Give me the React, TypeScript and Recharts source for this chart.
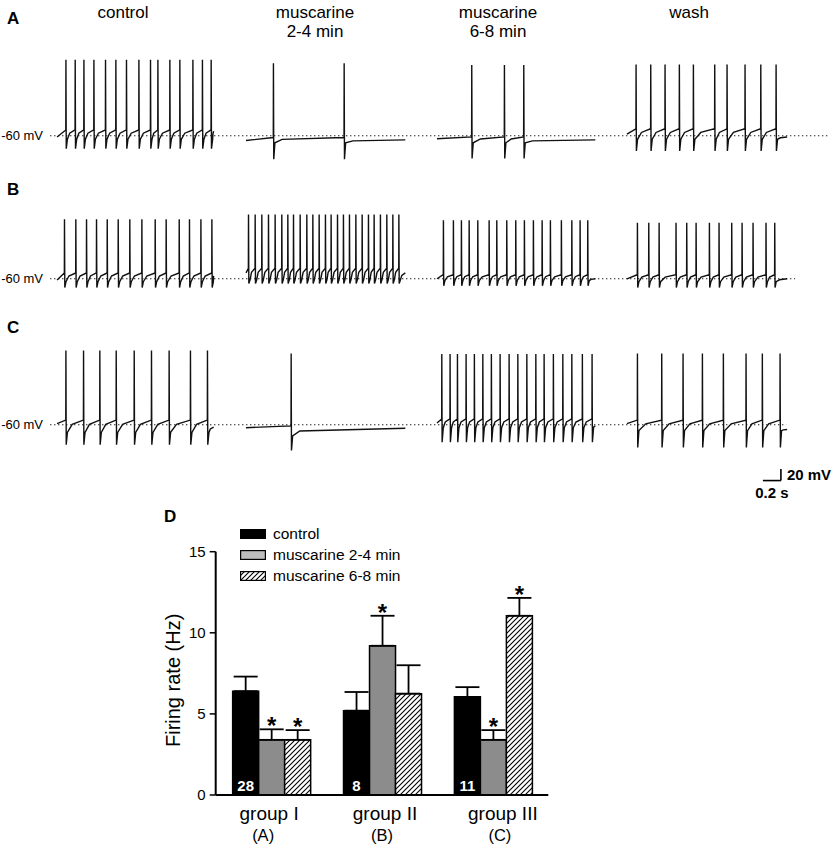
import React from "react";
import {
  LineChart,
  Line,
  XAxis,
  YAxis,
  ReferenceLine,
  BarChart,
  Bar,
  ErrorBar,
  LabelList,
  Legend,
} from "recharts";

const FONT = '"Liberation Sans", Arial, Helvetica, sans-serif';

// spike times in seconds, from the start of each sweep
const A_CONTROL = [0.097, 0.2, 0.297, 0.408, 0.537, 0.652, 0.77, 0.908, 1.037, 1.119, 1.252, 1.363, 1.508, 1.614, 1.711];
const A_MUS24 = [0.303, 1.089];
const A_MUS68 = [0.385, 0.748, 0.963];
const A_WASH = [0.1, 0.263, 0.422, 0.581, 0.737, 0.974, 1.111, 1.311, 1.486, 1.656];

const B_CONTROL = [0.081, 0.207, 0.326, 0.437, 0.556, 0.678, 0.807, 0.941, 1.089, 1.211, 1.356, 1.47, 1.597, 1.719];
const B_MUS24 = [
  0.026, 0.1, 0.174, 0.248, 0.322, 0.396, 0.463, 0.526, 0.6, 0.674, 0.741, 0.811, 0.881, 0.944, 1.015, 1.081,
  1.148, 1.219, 1.289, 1.359, 1.422, 1.492, 1.563, 1.63, 1.697,
];
const B_MUS68 = [0.07, 0.181, 0.27, 0.356, 0.452, 0.578, 0.663, 0.774, 0.874, 0.97, 1.07, 1.167, 1.259, 1.381, 1.497, 1.589, 1.674];
const B_WASH = [0.115, 0.241, 0.356, 0.544, 0.663, 0.767, 0.915, 1.022, 1.163, 1.278, 1.4, 1.544, 1.641];

const C_CONTROL = [0.097, 0.293, 0.474, 0.656, 0.856, 1.048, 1.244, 1.481, 1.67];
const C_MUS24 = [0.5];
const C_MUS68 = [
  0.052, 0.144, 0.226, 0.322, 0.414, 0.508, 0.603, 0.7, 0.8, 0.897, 0.997, 1.097, 1.189, 1.292, 1.397, 1.497,
  1.614, 1.722,
];
const C_WASH = [0.115, 0.385, 0.622, 0.837, 1.07, 1.322, 1.503, 1.7];

// membrane levels in mV per sweep: [start, threshold, peak, trough, after-AHP, end]
const A_LEVELS = [
  [-62, -50, 70, -82, -66, -52],
  [-68, -63, 64, -100, -72, -67],
  [-65, -62, 61, -99, -72, -67],
  [-57, -48, 62, -86, -66, -62],
];
const B_LEVELS = [
  [-62, -50, 42, -75, -65, -55],
  [-50, -42, 50, -68, -62, -50],
  [-60, -53, 40, -72, -63, -60],
  [-60, -53, 36, -75, -65, -60],
];
const C_LEVELS = [
  [-58, -52, 67, -94, -73, -64],
  [-65, -62, 62, -104, -79, -66],
  [-57, -50, 61, -90, -65, -62],
  [-58, -52, 62, -99, -70, -68],
];
const SWEEP_DURATION = [1.74, 1.77, 1.76, 1.78];

const COLUMN_TITLES = [["control"], ["muscarine", "2-4 min"], ["muscarine", "6-8 min"], ["wash"]];

// bar chart (panel D)
const GROUPS = ["group I", "group II", "group III"];
const GROUP_CELLS = ["(A)", "(B)", "(C)"];
const CONTROL = [6.4, 5.2, 6.05];
const CONTROL_SEM = [0.9, 1.15, 0.6];
const MUS24 = [3.4, 9.2, 3.4];
const MUS24_SEM = [0.65, 1.85, 0.6];
const MUS68 = [3.4, 6.25, 11.05];
const MUS68_SEM = [0.6, 1.75, 1.1];
const MUS24_SIG = [true, true, true];
const MUS68_SIG = [true, false, true];
const N_CELLS = [28, 8, 11];

// layout
const PX_PER_MV = 0.5842;
const Y_TOP = 80;
const ROW_SPAN = 8.667; // seconds across a row's plot area
const COL_START = [0.078, 2.178, 4.3, 6.411];
const TITLE_X = [123, 315, 498, 689];
const GROUP_DX = [-2, 3, 10];
const CELL_DX = [-8, 0, 7];
const SCALE_X = 8.122;
const SCALE_Y = -155.5;

function buildSweep(offset: number, spikes: number[], lv: number[], duration: number) {
  const [start, thr, peak, trough, post, end] = lv;
  const pts: { t: number; v: number }[] = [{ t: 0, v: start }];
  let last = 0;
  const knee = (from: number, to: number, target: number) => ({
    t: from + Math.min(0.3 * (to - from), 0.08),
    v: post + 0.65 * (target - post),
  });
  spikes.forEach((s, i) => {
    if (i > 0) pts.push(knee(last, s, thr));
    pts.push({ t: s, v: thr }, { t: s + 0.0015, v: peak }, { t: s + 0.005, v: trough }, { t: s + 0.018, v: post });
    last = s + 0.018;
  });
  pts.push(knee(last, duration, end), { t: duration, v: end });
  return pts.map((p) => ({ t: p.t + offset, v: p.v }));
}

const ROWS = [
  { sweeps: [A_CONTROL, A_MUS24, A_MUS68, A_WASH], levels: A_LEVELS, top: 53.8, yMin: -110, dotEnd: 8.667, scale: false },
  { sweeps: [B_CONTROL, B_MUS24, B_MUS68, B_WASH], levels: B_LEVELS, top: 197.1, yMin: -110, dotEnd: 8.28, scale: false },
  { sweeps: [C_CONTROL, C_MUS24, C_MUS68, C_WASH], levels: C_LEVELS, top: 342.6, yMin: -200, dotEnd: 8.18, scale: true },
];

function TraceRow({ row }: { row: (typeof ROWS)[number] }) {
  const height = (Y_TOP - row.yMin) * PX_PER_MV;
  return (
    <div style={{ position: "absolute", left: 0, top: row.top }}>
      <LineChart width={834} height={height} margin={{ top: 0, right: 4, bottom: 0, left: 0 }}>
        <XAxis type="number" dataKey="t" domain={[0, ROW_SPAN]} hide allowDataOverflow />
        <YAxis
          type="number"
          domain={[row.yMin, Y_TOP]}
          ticks={[-60]}
          interval={0}
          width={50}
          allowDataOverflow
          axisLine={false}
          tickLine={false}
          tickSize={5}
          tickMargin={2}
          tickFormatter={() => "-60 mV"}
          tick={{ fontSize: 13, fill: "#000", fontFamily: FONT }}
        />
        <ReferenceLine
          segment={[{ x: 0, y: -60 }, { x: row.dotEnd, y: -60 }]}
          stroke="#222"
          strokeWidth={1.1}
          strokeDasharray="1.4 2.6"
        />
        {row.sweeps.map((spikes, i) => (
          <Line
            key={i}
            data={buildSweep(COL_START[i], spikes, row.levels[i], SWEEP_DURATION[i])}
            dataKey="v"
            type="linear"
            dot={false}
            activeDot={false}
            stroke="#111"
            strokeWidth={1.4}
            isAnimationActive={false}
          />
        ))}
        {row.scale && (
          <ReferenceLine
            segment={[{ x: SCALE_X, y: SCALE_Y }, { x: SCALE_X, y: SCALE_Y + 20 }]}
            stroke="#000"
            strokeWidth={1.6}
            label={{ value: "20 mV", position: "right", offset: 6, fontSize: 15, fontWeight: "bold", fill: "#000", fontFamily: FONT }}
          />
        )}
        {row.scale && (
          <ReferenceLine
            segment={[{ x: SCALE_X - 0.2, y: SCALE_Y }, { x: SCALE_X, y: SCALE_Y }]}
            stroke="#000"
            strokeWidth={1.6}
            label={{ value: "0.2 s", position: "bottom", offset: 7, fontSize: 15, fontWeight: "bold", fill: "#000", fontFamily: FONT }}
          />
        )}
      </LineChart>
    </div>
  );
}

const barData = GROUPS.map((g, i) => ({
  group: g,
  control: CONTROL[i],
  controlErr: [0, CONTROL_SEM[i]],
  mus24: MUS24[i],
  mus24Err: [0, MUS24_SEM[i]],
  mus68: MUS68[i],
  mus68Err: [0, MUS68_SEM[i]],
}));

const SWATCH = ["#000", "#bdbdbd", "url(#hatch)"];

function LegendBox({ payload }: any) {
  return (
    <div style={{ fontFamily: FONT }}>
      {(payload || []).map((p: any, i: number) => (
        <div key={i} style={{ display: "flex", alignItems: "center", height: 21.3 }}>
          <svg width={26} height={10} style={{ display: "block" }}>
            <rect x={0.6} y={0.6} width={24.8} height={8.8} fill={SWATCH[i]} stroke="#000" strokeWidth={1.2} />
          </svg>
          <span style={{ marginLeft: 7, fontSize: 15.5, color: "#000", whiteSpace: "nowrap" }}>{p.value}</span>
        </div>
      ))}
    </div>
  );
}

function starLabel(sig: boolean[], sem: number[]) {
  return (props: any) => {
    const { x, y, width, height, value, index } = props;
    if (!sig[index] || !value) return null;
    const capY = Number(y) - sem[index] * (Number(height) / Number(value));
    return (
      <text x={Number(x) + Number(width) / 2} y={capY + 5} textAnchor="middle" fontSize={24} fontWeight="bold" fontFamily={FONT} fill="#000">
        *
      </text>
    );
  };
}

function countLabel(props: any) {
  const { x, y, width, height, index } = props;
  return (
    <text
      x={Number(x) + Number(width) / 2}
      y={Number(y) + Number(height) - 4.5}
      textAnchor="middle"
      fontSize={15}
      fontWeight="bold"
      fontFamily={FONT}
      fill="#fff"
    >
      {N_CELLS[index]}
    </text>
  );
}

function GroupTick({ x, y, payload, index }: any) {
  return (
    <g>
      <text x={x + GROUP_DX[index]} y={y + 25} textAnchor="middle" fontSize={19} fill="#000" fontFamily={FONT}>
        {payload.value}
      </text>
      <text x={x + CELL_DX[index]} y={y + 46} textAnchor="middle" fontSize={16.5} fill="#000" fontFamily={FONT}>
        {GROUP_CELLS[index]}
      </text>
    </g>
  );
}

function yAxisLabel(props: any) {
  const vb = props.viewBox || { x: 165.7, y: 51.7, width: 50, height: 243.3 };
  const cx = vb.x + 7.5;
  const cy = vb.y + vb.height / 2 + 7;
  return (
    <text
      x={cx}
      y={cy}
      transform={`rotate(-90, ${cx}, ${cy})`}
      textAnchor="middle"
      dominantBaseline="central"
      fontSize={20}
      fill="#000"
      fontFamily={FONT}
    >
      Firing rate (Hz)
    </text>
  );
}

function FiringRateChart() {
  return (
    <div style={{ position: "absolute", left: 130, top: 500 }}>
      <BarChart
        width={430}
        height={350}
        data={barData}
        margin={{ top: 51.7, right: 11.7, bottom: 5, left: 35.7 }}
        barCategoryGap="15.3%"
        barGap={0}
      >
        <defs>
          <pattern id="hatch" patternUnits="userSpaceOnUse" width="5" height="5">
            <rect width="5" height="5" fill="#fff" />
            <path d="M-1,1 l2,-2 M0,5 l5,-5 M4,6 l2,-2" stroke="#000" strokeWidth="1.1" />
          </pattern>
        </defs>
        <XAxis
          dataKey="group"
          height={50}
          axisLine={{ stroke: "#000", strokeWidth: 2 }}
          tickLine={false}
          tickSize={0}
          tickMargin={0}
          interval={0}
          tick={<GroupTick />}
        />
        <YAxis
          domain={[0, 15]}
          ticks={[0, 5, 10, 15]}
          interval={0}
          width={50}
          axisLine={{ stroke: "#000", strokeWidth: 2 }}
          tickLine={{ stroke: "#000", strokeWidth: 1.5 }}
          tickSize={6}
          tickMargin={4}
          tick={{ fontSize: 15, fill: "#000", fontFamily: FONT }}
          label={{ value: "Firing rate (Hz)", position: "insideLeft", content: yAxisLabel }}
        />
        <Legend
          layout="vertical"
          align="center"
          verticalAlign="middle"
          content={<LegendBox />}
          wrapperStyle={{ left: 110, top: 23, width: 220, height: 66 }}
        />
        <Bar dataKey="control" name="control" fill="#000" stroke="#000" strokeWidth={1.5} isAnimationActive={false}>
          <ErrorBar dataKey="controlErr" width={12} stroke="#000" strokeWidth={1.8} direction="y" />
          <LabelList dataKey="control" content={countLabel} />
        </Bar>
        <Bar dataKey="mus24" name="muscarine 2-4 min" fill="#8c8c8c" stroke="#000" strokeWidth={1.5} isAnimationActive={false}>
          <ErrorBar dataKey="mus24Err" width={12} stroke="#000" strokeWidth={1.8} direction="y" />
          <LabelList dataKey="mus24" content={starLabel(MUS24_SIG, MUS24_SEM)} />
        </Bar>
        <Bar dataKey="mus68" name="muscarine 6-8 min" fill="url(#hatch)" stroke="#000" strokeWidth={1.5} isAnimationActive={false}>
          <ErrorBar dataKey="mus68Err" width={12} stroke="#000" strokeWidth={1.8} direction="y" />
          <LabelList dataKey="mus68" content={starLabel(MUS68_SIG, MUS68_SEM)} />
        </Bar>
      </BarChart>
    </div>
  );
}

const letterStyle: React.CSSProperties = {
  position: "absolute",
  fontSize: 17,
  fontWeight: "bold",
  lineHeight: "20px",
  color: "#000",
};

export default function App() {
  return (
    <div
      style={{
        position: "absolute",
        left: 0,
        top: 0,
        width: 834,
        height: 850,
        background: "#fff",
        fontFamily: FONT,
        color: "#000",
        overflow: "hidden",
      }}
    >
      <div style={{ ...letterStyle, left: 7, top: 9 }}>A</div>
      <div style={{ ...letterStyle, left: 7, top: 180 }}>B</div>
      <div style={{ ...letterStyle, left: 7, top: 318 }}>C</div>
      <div style={{ ...letterStyle, left: 164, top: 507 }}>D</div>
      {COLUMN_TITLES.map((lines, i) => (
        <div
          key={i}
          style={{
            position: "absolute",
            left: TITLE_X[i],
            top: 3,
            transform: "translateX(-50%)",
            fontSize: 17,
            lineHeight: "19px",
            textAlign: "center",
            whiteSpace: "nowrap",
          }}
        >
          {lines.map((l, j) => (
            <div key={j}>{l}</div>
          ))}
        </div>
      ))}
      {ROWS.map((row, i) => (
        <TraceRow key={i} row={row} />
      ))}
      <FiringRateChart />
    </div>
  );
}
